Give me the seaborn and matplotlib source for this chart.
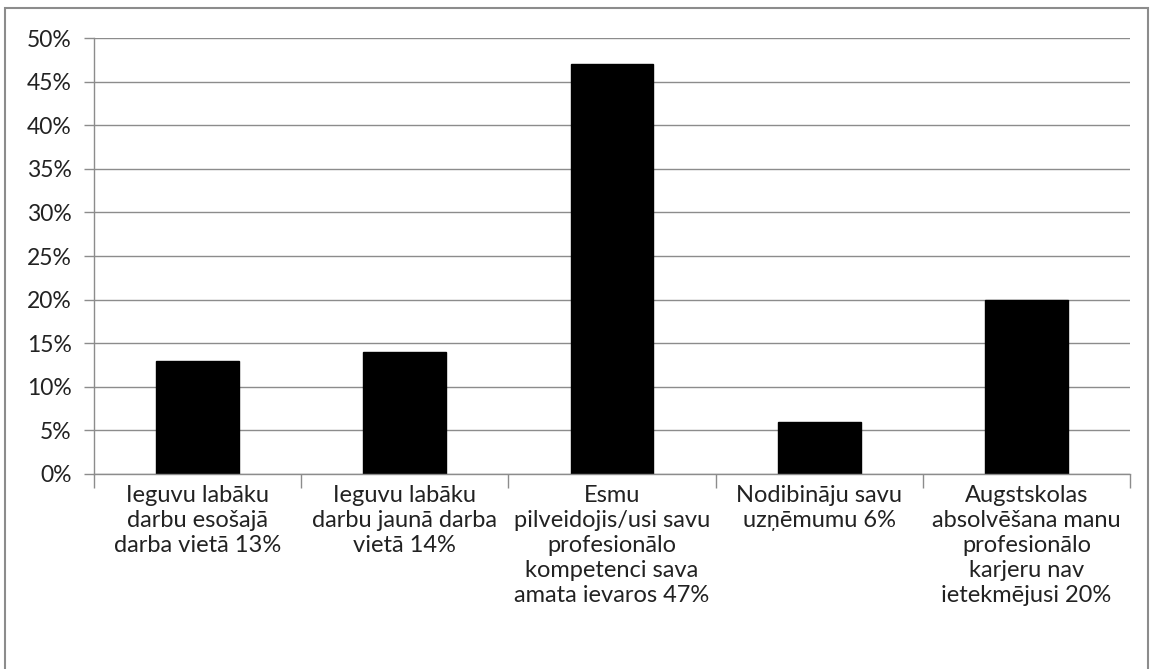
import matplotlib
matplotlib.use("Agg")
import matplotlib.pyplot as plt
import seaborn as sns
import pandas as pd
from matplotlib.patches import Rectangle
from matplotlib.ticker import FuncFormatter

categories = [
    "Ieguvu labāku\ndarbu esošajā\ndarba vietā 13%",
    "Ieguvu labāku\ndarbu jaunā darba\nvietā 14%",
    "Esmu\npilveidojis/usi savu\nprofesionālo\nkompetenci sava\namata ievaros 47%",
    "Nodibināju savu\nuzņēmumu 6%",
    "Augstskolas\nabsolvēšana manu\nprofesionālo\nkarjeru nav\nietekmējusi 20%",
]
values = [0.13, 0.14, 0.47, 0.06, 0.20]
yticks = [0, 0.05, 0.10, 0.15, 0.20, 0.25, 0.30, 0.35, 0.40, 0.45, 0.50]

sns.set_theme(style="white")
plt.rcParams['font.family'] = ['Lato', 'DejaVu Sans']

df = pd.DataFrame({"cat": categories, "val": values})

fig = plt.figure(figsize=(11.53, 6.69), dpi=100)
ax = fig.add_axes([94/1153, 1-474/669, (1130-94)/1153, (474-38)/669])
sns.barplot(data=df, x="cat", y="val", color="black", width=0.4, ax=ax, saturation=1)
for p in ax.patches:
    p.set_edgecolor("black")

ax.set_ylim(0, 0.5)
ax.set_xlim(-0.5, 4.5)
ax.set_yticks(yticks)
ax.yaxis.set_major_formatter(FuncFormatter(lambda v, _: f"{round(v*100):d}%"))
ax.set_xlabel("")
ax.set_ylabel("")
ax.yaxis.grid(True, color="#8c8c8c", linewidth=1)
ax.set_axisbelow(True)
for s in ["top", "right"]:
    ax.spines[s].set_visible(False)
for s in ["left", "bottom"]:
    ax.spines[s].set_color("#8c8c8c")
    ax.spines[s].set_linewidth(1)

ax.set_xticks(range(len(categories)))
ax.set_xticks([-0.5, 0.5, 1.5, 2.5, 3.5, 4.5], minor=True)
ax.tick_params(axis="x", which="major", length=0, pad=8, labelsize=17)
ax.tick_params(axis="x", which="minor", length=10, color="#8c8c8c", width=1, direction="out", bottom=True)
ax.tick_params(axis="y", length=7, color="#8c8c8c", width=1, direction="out", labelsize=16.5, pad=9, left=True)
ax.set_xticklabels(categories, fontsize=17, linespacing=1.24, va="top")
for t in ax.get_yticklabels():
    t.set_color("#222222")
for t in ax.get_xticklabels():
    t.set_color("#222222")

fig.patches.append(Rectangle((5/1153, -0.05), (1148-5)/1153, 1.05-8/669,
                             transform=fig.transFigure, fill=False,
                             edgecolor="#8c8c8c", linewidth=1.5))

fig.savefig("out.png", dpi=100)
